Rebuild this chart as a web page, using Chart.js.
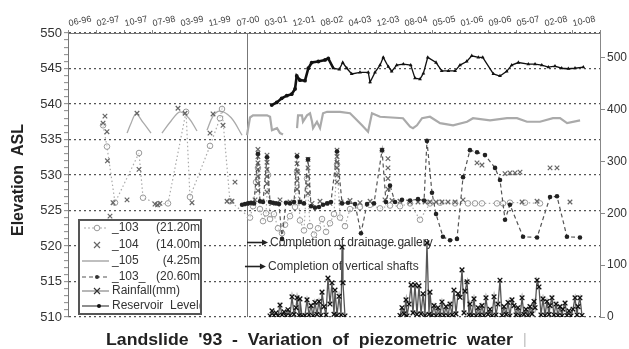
<!DOCTYPE html>
<html><head><meta charset="utf-8">
<script src="https://cdn.jsdelivr.net/npm/chart.js@4/dist/chart.umd.min.js"></script>
<style>html,body{margin:0;padding:0;background:#fff;}canvas{display:block;}</style>
</head><body>
<canvas id="c" width="629" height="349"></canvas>
<script>
// ---- axis / tick labels ----
const tickLabels = ['06-96','02-97','10-97','07-98','03-99','11-99','07-00','03-01','12-01','08-02','04-03','12-03','08-04','05-05','01-06','09-06','05-07','02-08','10-08'];
const dayStep = 250;            // days between top-axis ticks (day 0 = 06-96)
const leftTicks = [510,515,520,525,530,535,540,545,550];
const rightTicks = [0,100,200,300,400,500];

// ---- series (x = days since 06-96) ----
// Reservoir level (right axis)
const resDays = [1819,1864,1908,1953,1997,2027,2042,2071,2116,2146,2176,2235,2295,2324,2369,2422,2453,2489,2533,2607,2681,2697,2741,2786,2815,2860,2890,2935,2994,3060,3098,3143,3173,3212,3286,3337,3396,3456,3500,3560,3605,3664,3703,3798,3857,3917,3962,4021,4110,4170,4230,4289,4348,4408,4467,4527,4601];
const resLevel = [409,414,422,427,430,440,465,457,456,480,491,493,496,499,480,478,491,480,469,472,472,453,472,486,501,483,474,486,488,486,461,459,470,501,491,475,475,475,486,493,504,501,501,469,465,474,486,491,488,488,486,482,484,480,479,480,482];

// _105 (4.25m) after 2000
const p105Days = [1598,1625,1652,1777,1804,1821,1866,1893,1920,1980,2045,2054,2089,2098,2134,2161,2179,2188,2223,2250,2277,2313,2429,2518,2563,2625,2679,2714,2786,2991,3054,3080,3116,3161,3232,3322,3438,3563,3616,3768,3920,4009,4098,4214,4330,4393,4456,4572];
const p105Vals = [535.6,538.1,538.4,538.4,538.2,536.3,536.6,535.9,535.7,null,536.6,538.4,538.4,537.5,538.4,538.7,537.5,536.6,537.5,536.6,538.7,538.9,538.9,538.7,538.0,537.0,536.1,538.7,538.2,538.0,536.8,536.6,537.0,538.0,538.2,537.3,537.0,537.5,538.0,537.7,538.0,538.0,537.5,537.5,538.0,538.0,537.3,537.7];
// _105 early arcs (before 2000)
const p105ArcDays = [527,563,607,670,741,790,839,920,1000,1080,1152,1200,1241,1295,1357,1455,1554];
const p105ArcVals = [535.9,537.3,538.6,537.4,535.9,null,535.9,537.6,538.9,538.0,536.2,null,536.3,538.3,539.0,538.1,535.6];

// _103 (21.20m)
const p103Days = [313,348,420,634,670,804,893,1054,1089,1268,1357,1375,1446,1625,1652,1679,1696,1714,1741,1768,1786,1804,1839,1875,1911,1938,1982,2027,2045,2071,2107,2134,2161,2196,2232,2268,2304,2339,2375,2402,2429,2473,2518,2607,2697,2786,2875,2964,3054,3143,3232,3322,3456,3571,3634,3696,3830,3884,3946,4080,4214];
const p103Vals = [537.0,534.0,526.1,533.1,526.8,525.9,526.0,538.9,526.9,534.1,538.0,539.3,526.3,524.0,525.6,529.0,531.0,525.2,523.5,524.6,530.0,523.8,524.5,522.5,521.8,523.0,524.2,525.5,530.5,523.6,522.2,529.5,522.8,521.6,522.5,523.8,522.0,523.2,524.5,531.5,524.0,522.8,525.2,525.5,525.8,525.3,525.7,525.6,526.0,523.7,526.0,526.1,526.0,526.0,526.0,526.0,526.0,526.0,526.1,526.1,526.0];

// _104 (14.00m) – markers only
const p104Days = [313,330,348,352,375,402,527,616,634,777,800,821,982,1045,1107,1268,1295,1384,1420,1464,1491,
  1696,1696,1696,1696,1696,1696,1696,1777,1777,1777,1777,1777,1777,2045,2045,2045,2045,2045,2143,2143,2143,2143,2143,
  2402,2402,2402,2402,2402,2402,2804,2857,2857,2857,2857,
  1625,1670,1732,1821,1893,1982,2071,2179,2250,2339,2438,2518,2607,2697,2830,2893,2964,3054,3125,3188,3232,3286,3339,3393,3456,3527,
  3652,3696,3902,3946,3991,4036,4054,4188,4304,4366,4482];
const p104Vals = [537.3,538.3,536.1,532.0,524.2,526.1,526.5,538.7,530.8,525.9,525.8,526.0,539.4,538.7,526.1,535.9,538.6,537.0,526.3,526.3,529.0,
  533.6,532.6,531.7,530.8,529.8,528.8,527.8,532.8,531.8,530.8,529.8,528.8,527.6,532.8,531.6,530.5,529.2,528.0,532.2,531.0,529.8,528.6,527.4,
  533.5,532.6,531.8,531.0,530.0,529.0,533.5,532.3,531.0,529.5,528.0,
  526.0,526.5,526.3,526.0,526.5,526.2,526.2,526.0,526.3,526.0,526.2,526.4,526.1,526.3,526.5,526.4,526.3,526.2,526.2,526.2,526.2,526.2,526.2,526.2,526.2,526.5,
  531.7,531.4,530.2,530.3,530.3,530.4,526.2,526.3,531.0,531.0,526.2];

// _103_ (20.60m)
const p103bDays = [1554,1580,1607,1634,1661,1696,1714,1741,1777,1804,1830,1857,1884,1911,1946,1982,2018,2045,2071,2107,2143,2170,2205,2241,2277,2313,2348,2402,2447,2500,2563,2616,2670,2732,2804,2839,2875,2920,2982,3054,3125,3179,3205,3250,3286,3348,3411,3473,3527,3589,3652,3723,3813,3857,3902,3946,4063,4188,4304,4366,4455,4571];
const p103bVals = [525.8,525.9,526.0,526.1,526.0,533.0,526.3,526.2,532.5,526.2,526.1,526.0,525.9,521.0,526.1,526.0,526.2,532.6,526.2,526.0,532.2,525.6,525.4,525.5,525.8,526.0,526.2,533.3,526.0,526.1,525.9,521.8,525.9,526.0,533.5,526.2,528.5,526.2,526.5,526.4,526.6,526.4,534.8,527.5,524.5,521.3,520.8,521.0,529.7,533.5,533.2,532.8,531.0,529.3,523.7,525.8,521.3,521.2,526.9,527.0,521.3,521.2];

// Rainfall (mm, right axis)
const rainDays = [1804,1821,1839,1857,1875,1893,1911,1929,1946,1964,1982,2000,2018,2036,2045,2063,2071,2089,2100,
  2116,2134,2152,2170,2188,2205,2223,2241,2259,2268,2286,2304,2321,2339,2357,2375,2384,2402,2420,2438,2447,2455,2473,2700,
  2964,2982,3000,3018,3027,3045,3063,3080,3098,3116,3134,3152,3170,3188,3205,3223,3232,3250,3268,3286,3304,3322,3339,3357,3375,3393,3411,3429,3446,3464,3482,3500,3518,3536,3545,3563,3580,3589,3607,3625,3643,3661,3679,3696,3714,3732,3750,3768,3786,3804,3821,3839,3857,3875,3893,3911,3929,3946,3964,3982,4000,4018,4036,4054,4071,4089,4107,4125,4143,4161,4170,4188,4205,4223,4241,4259,4277,4295,4304,4321,4339,4357,4375,4393,4411,4420,4438,4455,4473,4491,4509,4527,4545,4554,4571,4589];
const rainMm = [2,12,3,8,2,23,4,10,2,14,3,39,5,18,37,3,35,2,null,
  3,33,4,22,2,28,5,30,3,48,20,4,75,25,66,5,52,3,40,4,135,66,2,null,
  3,18,6,33,2,25,62,8,62,5,60,6,45,3,143,5,48,3,22,2,18,4,29,3,20,2,25,4,52,6,45,38,91,8,50,68,4,25,3,35,2,18,4,22,3,37,5,15,2,39,4,25,71,3,20,5,28,2,33,22,4,18,2,37,5,15,3,20,6,30,18,71,58,4,35,3,30,5,22,37,4,25,3,20,2,15,27,3,12,2,15,37,4,20,37,3];

// annotations (x in days, y in elevation)
const worksDay = 1598;
const notes = [
  {text: 'Completion of drainage gallery', day: 1598, value: 520.56},
  {text: 'Completion of vertical shafts', day: 1580, value: 517.18}
];
const titleText = "Landslide  '93  -  Variation  of  piezometric  water";

// ---- build ----
const zip = (d, v) => d.map((x, i) => ({x, y: v[i]}));
const FONT = '"Liberation Sans", Arial, sans-serif';
Chart.defaults.font.family = FONT;

const overlay = {
  id: 'overlay',
  beforeDatasetsDraw(chart) {
    const {ctx, chartArea: a, scales} = chart;
    const x = scales.x, y = scales.y;
    ctx.save();
    const vx = Math.round(x.getPixelForValue(worksDay)) + 0.5;
    ctx.strokeStyle = '#777'; ctx.lineWidth = 1;
    ctx.beginPath(); ctx.moveTo(vx, a.top); ctx.lineTo(vx, a.bottom); ctx.stroke();
    ctx.font = '12px ' + FONT; ctx.textBaseline = 'middle'; ctx.textAlign = 'left';
    notes.forEach(n => {
      const px = x.getPixelForValue(n.day), py = Math.round(y.getPixelForValue(n.value)) + 0.5;
      ctx.strokeStyle = '#222'; ctx.fillStyle = '#222'; ctx.lineWidth = 1.6;
      ctx.beginPath(); ctx.moveTo(px, py); ctx.lineTo(px + 17, py); ctx.stroke();
      ctx.beginPath(); ctx.moveTo(px + 21, py); ctx.lineTo(px + 15, py - 3); ctx.lineTo(px + 15, py + 3); ctx.closePath(); ctx.fill();
      ctx.fillStyle = '#333';
      ctx.fillText(n.text, px + 23, py);
    });
    ctx.restore();
  },
  afterDraw(chart) {
    const ctx = chart.ctx;
    ctx.save();
    // legend
    const bx = 79, by = 220, bw = 122, bh = 94;
    ctx.fillStyle = '#fff'; ctx.fillRect(bx, by, bw, bh);
    ctx.save();
    ctx.beginPath(); ctx.rect(bx + 1, by + 1, bw - 2, bh - 2); ctx.clip();
    const rowsY = [228, 245, 261, 277, 291, 306];
    const rows = [
      {name: '_103', tag: '(21.20m)'}, {name: '_104', tag: '(14.00m)'}, {name: '_105', tag: '(4.25m)'},
      {name: '_103_', tag: '(20.60m)'}, {name: 'Rainfall(mm)'}, {name: 'Reservoir  Level('}
    ];
    const line = (y, col, w, dash, x1 = 82, x2 = 109) => {
      ctx.save(); ctx.strokeStyle = col; ctx.lineWidth = w; ctx.setLineDash(dash);
      ctx.beginPath(); ctx.moveTo(x1, y); ctx.lineTo(x2, y); ctx.stroke(); ctx.restore();
    };
    const cross = (cx, cy, r, col) => {
      ctx.save(); ctx.strokeStyle = col; ctx.lineWidth = 1.2; ctx.beginPath();
      ctx.moveTo(cx - r, cy - r); ctx.lineTo(cx + r, cy + r); ctx.moveTo(cx + r, cy - r); ctx.lineTo(cx - r, cy + r);
      ctx.stroke(); ctx.restore();
    };
    line(rowsY[0], '#aaa', 1.2, [2, 2], 84, 108);
    ctx.beginPath(); ctx.arc(97, rowsY[0], 2.8, 0, Math.PI * 2); ctx.fillStyle = '#fff'; ctx.fill(); ctx.strokeStyle = '#999'; ctx.lineWidth = 1; ctx.stroke();
    cross(97, rowsY[1], 3, '#666');
    line(rowsY[2], '#aaa', 1.5, []);
    line(rowsY[3], '#555', 1.2, [4, 3]);
    ctx.beginPath(); ctx.arc(97, rowsY[3], 2, 0, Math.PI * 2); ctx.fillStyle = '#333'; ctx.fill();
    line(rowsY[4], '#888', 1.2, []); cross(97, rowsY[4], 3, '#333');
    line(rowsY[5], '#444', 1.2, []);
    ctx.beginPath(); ctx.arc(99, rowsY[5], 2, 0, Math.PI * 2); ctx.fillStyle = '#111'; ctx.fill();
    ctx.font = '12px ' + FONT; ctx.fillStyle = '#333'; ctx.textBaseline = 'middle';
    rows.forEach((r, i) => {
      ctx.textAlign = 'left'; ctx.fillText(r.name, 112, rowsY[i]);
      if (r.tag) { ctx.textAlign = 'right'; ctx.fillText(r.tag, 204, rowsY[i]); }
    });
    ctx.restore();
    ctx.strokeStyle = '#555'; ctx.lineWidth = 2; ctx.strokeRect(bx, by, bw, bh);

    // title
    ctx.font = 'bold 16px ' + FONT; ctx.fillStyle = '#222'; ctx.textBaseline = 'alphabetic'; ctx.textAlign = 'left';
    const tw = ctx.measureText(titleText).width;
    const sx = 407 / tw;
    ctx.save(); ctx.translate(106, 345); ctx.scale(sx, 1); ctx.fillText(titleText, 0, 0); ctx.restore();
    ctx.font = '14px ' + FONT; ctx.fillStyle = '#bbb'; ctx.fillText('|', 523, 344);

    // y title
    ctx.save(); ctx.translate(19, 180); ctx.rotate(-Math.PI / 2);
    ctx.font = 'bold 16px ' + FONT; ctx.fillStyle = '#222'; ctx.textAlign = 'center'; ctx.textBaseline = 'middle';
    ctx.fillText('Elevation  ASL', 0, 0);
    ctx.restore();
    ctx.restore();
  }
};

new Chart(document.getElementById('c'), {
  type: 'line',
  data: {
    datasets: [
      {label: 'Reservoir Level', yAxisID: 'y2', data: zip(resDays, resLevel), order: 1,
       borderColor: '#111', borderWidth: 1.3,
       segment: {borderWidth: c => c.p0.parsed.x < 2330 ? 2.6 : 1.3},
       pointStyle: c => (c.raw && c.raw.x > 2330) ? 'triangle' : 'circle',
       pointRadius: c => (c.raw && c.raw.x > 2330) ? 2.2 : 1.9,
       pointBackgroundColor: '#111', pointBorderColor: '#111', pointBorderWidth: 0},
      {label: '_103_', yAxisID: 'y', data: zip(p103bDays, p103bVals), order: 2,
       borderColor: '#555', borderWidth: 1.2, borderDash: [4, 3], pointRadius: 2.3, pointBackgroundColor: '#222', pointBorderWidth: 0},
      {label: '_104', yAxisID: 'y', data: zip(p104Days, p104Vals), order: 3, showLine: false,
       pointStyle: 'crossRot', pointRadius: 3.2, pointBorderColor: '#666', pointBorderWidth: 1.2, borderColor: '#666'},
      {label: '_103', yAxisID: 'y', data: zip(p103Days, p103Vals), order: 4,
       borderColor: '#aaa', borderWidth: 1.2, borderDash: [1.5, 2.5], pointRadius: 2.8, pointBorderColor: '#999',
       pointBackgroundColor: 'rgba(255,255,255,0.5)', pointBorderWidth: 1},
      {label: '_105', yAxisID: 'y', data: zip(p105Days, p105Vals), order: 5,
       borderColor: '#aaa', borderWidth: 2.2, pointRadius: 0},
      {label: '_105 early', yAxisID: 'y', data: zip(p105ArcDays, p105ArcVals), order: 5,
       borderColor: '#aaa', borderWidth: 1.3, pointRadius: 0, tension: 0.35},
      {label: 'Rainfall(mm)', yAxisID: 'y2', data: zip(rainDays, rainMm), order: 6,
       borderColor: '#555', borderWidth: 1.3, pointStyle: 'crossRot', pointRadius: 3.3, pointBorderColor: '#111', pointBorderWidth: 1.3}
    ]
  },
  options: {
    responsive: false, animation: false, devicePixelRatio: 1, events: [],
    layout: {padding: {top: 0, left: 0, right: 0, bottom: 32}},
    plugins: {legend: {display: false}, tooltip: {enabled: false}, title: {display: false}},
    scales: {
      x: {
        type: 'linear', position: 'top', min: 0, max: 19 * dayStep,
        afterBuildTicks: s => { s.ticks = tickLabels.concat(['']).map((_, i) => ({value: i * dayStep})); },
        afterFit: s => { s.height = 33; },
        ticks: {autoSkip: false, minRotation: 12, maxRotation: 12, padding: 1, labelOffset: 3, color: '#444', font: {size: 9},
                callback: (v, i) => tickLabels[i] ?? ''},
        grid: {drawOnChartArea: false, tickLength: 3, color: '#888'},
        border: {display: true, color: '#777', width: 1}
      },
      y: {
        type: 'linear', position: 'left', min: 510, max: 550,
        afterBuildTicks: s => { const t = []; for (let v = leftTicks[0]; v <= leftTicks[leftTicks.length - 1]; v++) t.push({value: v}); s.ticks = t; },
        afterFit: s => { s.width = 68; },
        ticks: {autoSkip: false, padding: 2, color: '#333', font: {size: 13},
                callback: v => leftTicks.includes(v) ? String(v) : ''},
        grid: {color: c => (c.tick && leftTicks.includes(c.tick.value)) ? '#555' : 'rgba(0,0,0,0)',
               lineWidth: 1.3, tickLength: 4, tickColor: '#888', tickWidth: 1, tickBorderDash: []},
        border: {display: true, color: '#777', width: 1, dash: [2, 3]}
      },
      y2: {
        type: 'linear', position: 'right', min: 0, max: 548,
        afterBuildTicks: s => { s.ticks = rightTicks.map(v => ({value: v})); },
        afterFit: s => { s.width = 29; },
        ticks: {autoSkip: false, padding: 2, color: '#333', font: {size: 12}},
        grid: {drawOnChartArea: false, tickLength: 5, color: '#888'},
        border: {display: true, color: '#888', width: 1}
      }
    }
  },
  plugins: [overlay]
});
</script>
</body></html>
